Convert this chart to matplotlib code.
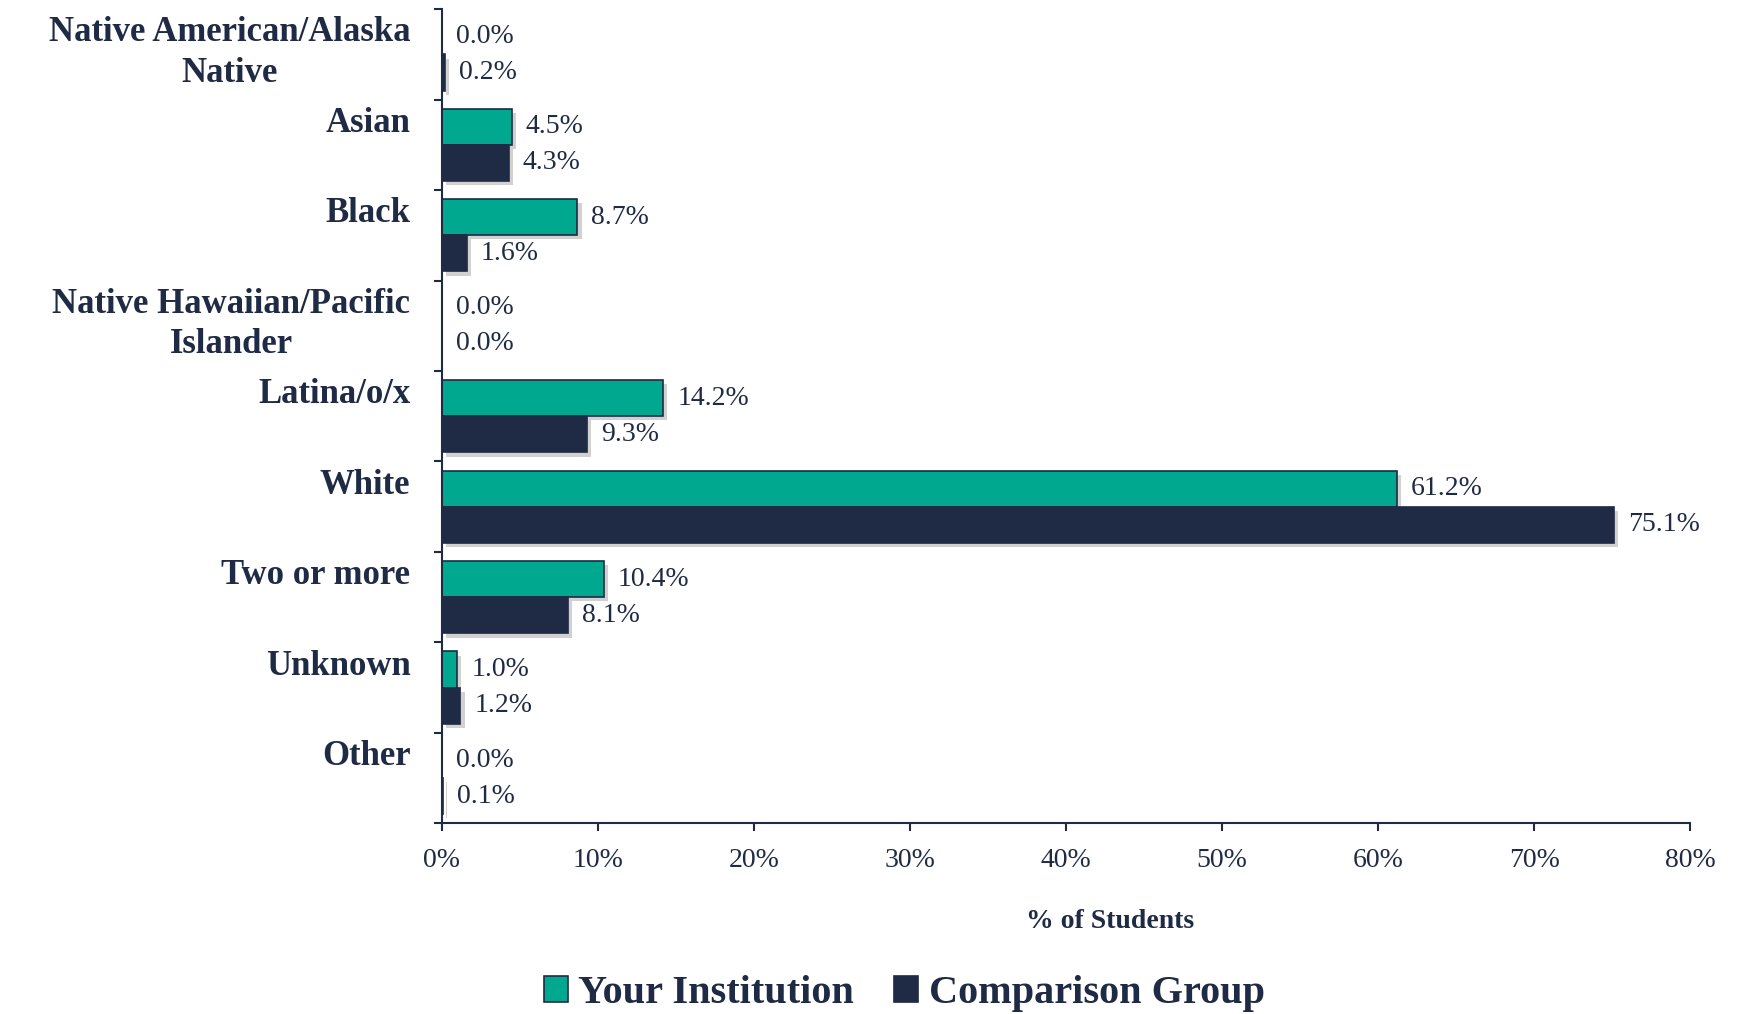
import numpy as np
import matplotlib.pyplot as plt
import matplotlib.patheffects as pe
import matplotlib.transforms as mtransforms
from matplotlib.patches import Patch

plt.rcParams['font.family'] = ['Liberation Serif', 'DejaVu Serif']

NAVY = '#1f2a44'
TEAL = '#00a88f'

categories = ['Native American/Alaska\nNative', 'Asian', 'Black',
              'Native Hawaiian/Pacific\nIslander', 'Latina/o/x', 'White',
              'Two or more', 'Unknown', 'Other']
your_inst = [0.0, 4.5, 8.7, 0.0, 14.2, 61.2, 10.4, 1.0, 0.0]
comparison = [0.2, 4.3, 1.6, 0.0, 9.3, 75.1, 8.1, 1.2, 0.1]
series_names = ['Your Institution', 'Comparison Group']

fig = plt.figure(figsize=(17.39, 10.14), dpi=100, facecolor='white')
ax = fig.add_axes([0.254, 0.188, 0.718, 0.803])

n = len(categories)
y = np.arange(n)
h = 0.4
shadow = [pe.SimplePatchShadow(offset=(3, -3), shadow_rgbFace='#999999', alpha=0.45), pe.Normal()]

b1 = ax.barh(y - h / 2, your_inst, height=h, color=TEAL, edgecolor=NAVY, linewidth=1.2)
b2 = ax.barh(y + h / 2, comparison, height=h, color=NAVY, edgecolor=NAVY, linewidth=1.2)
for bars in (b1, b2):
    for p in bars:
        p.set_path_effects(shadow)

for yy, v in zip(y - h / 2, your_inst):
    ax.annotate(f'{v:.1f}%', (v, yy), xytext=(10, 0), textcoords='offset points',
                va='center', ha='left', fontsize=20, color=NAVY)
for yy, v in zip(y + h / 2, comparison):
    ax.annotate(f'{v:.1f}%', (v, yy), xytext=(10, 0), textcoords='offset points',
                va='center', ha='left', fontsize=20, color=NAVY)

ax.set_ylim(n - 0.5, -0.5)
ax.set_xlim(0, 80)
ax.set_xticks(np.arange(0, 81, 10))
ax.set_xticklabels([f'{t}%' for t in range(0, 81, 10)], fontsize=20, color=NAVY)
ax.set_yticks(np.arange(-0.5, n, 1))
ax.set_yticklabels([])
ax.tick_params(axis='both', direction='out', color=NAVY, width=1.5, length=6)
ax.tick_params(axis='x', pad=12)

# category labels, anchored at top of each group
trans = mtransforms.blended_transform_factory(ax.transAxes, ax.transData)
for yy, lab in zip(y, categories):
    ax.text(-0.025, yy - 0.42, lab, transform=trans, ha='right', va='top',
            fontsize=25, fontweight='bold', color=NAVY, multialignment='center',
            linespacing=1.3)

for s in ['top', 'right']:
    ax.spines[s].set_visible(False)
for s in ['left', 'bottom']:
    ax.spines[s].set_color(NAVY)
    ax.spines[s].set_linewidth(1.5)

ax.set_xlabel('% of Students', fontsize=20, fontweight='bold', color=NAVY)
ax.xaxis.set_label_coords(0.535, -0.105)

handles = [Patch(facecolor=TEAL, edgecolor=NAVY, linewidth=1.2),
           Patch(facecolor=NAVY, edgecolor=NAVY, linewidth=1.2)]
leg = fig.legend(handles, series_names, loc='center', bbox_to_anchor=(0.52, 0.02), ncol=2,
                 frameon=False, fontsize=29, handlelength=0.6, handleheight=0.6,
                 handletextpad=0.25, columnspacing=1.0)
for t in leg.get_texts():
    t.set_color(NAVY)
    t.set_fontweight('bold')

fig.savefig('out.png', dpi=100, facecolor='white')
